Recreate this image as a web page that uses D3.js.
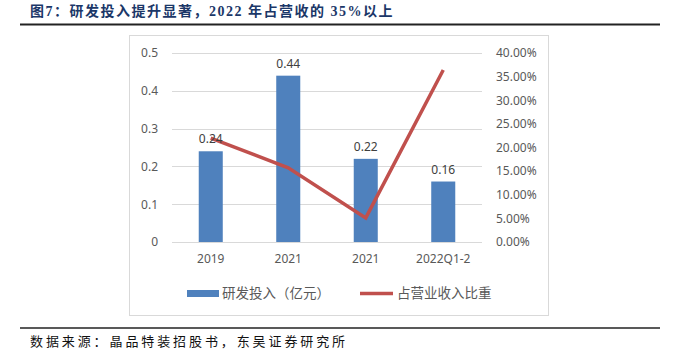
<!DOCTYPE html>
<html>
<head>
<meta charset="utf-8">
<script src="https://cdn.jsdelivr.net/npm/d3@7"></script>
<style>
  body { margin: 0; background: #fff; }
  svg text { font-family: "Noto Sans", "Noto Sans CJK SC", sans-serif; }
</style>
</head>
<body>
<svg id="chart" width="680" height="359"></svg>
<script>
// data
const categories = ["2019", "2021", "2021", "2022Q1-2"];
const rdSpend = [0.24, 0.44, 0.22, 0.16];          // 研发投入（亿元）
const revenueShare = [0.22, 0.157, 0.051, 0.364];  // 占营业收入比重
const leftTicks = [0, 0.1, 0.2, 0.3, 0.4, 0.5];
const rightTicks = [0, 0.05, 0.1, 0.15, 0.2, 0.25, 0.3, 0.35, 0.4];

const svg = d3.select("#chart");

// title + rules
svg.append("text")
  .attr("x", 30).attr("y", 16)
  .style("font-family", '"Liberation Serif", "Noto Sans CJK SC", serif')
  .style("font-weight", "bold")
  .style("font-size", "14px")
  .style("letter-spacing", "1.5px")
  .style("fill", "#1b3768")
  .text("图7：研发投入提升显著，2022 年占营收的 35%以上");

svg.append("line")
  .attr("x1", 20).attr("x2", 660).attr("y1", 24.5).attr("y2", 24.5)
  .style("stroke", "#222").style("stroke-width", 2);

svg.append("line")
  .attr("x1", 20).attr("x2", 660).attr("y1", 328).attr("y2", 328)
  .style("stroke", "#222").style("stroke-width", 1.5);

svg.append("text")
  .attr("x", 30).attr("y", 346)
  .style("font-family", '"Noto Sans CJK SC", sans-serif')
  .style("font-size", "13px")
  .style("letter-spacing", "2.9px")
  .style("fill", "#111")
  .text("数据来源：晶品特装招股书，东吴证券研究所");

// chart frame
svg.append("rect")
  .attr("x", 129.5).attr("y", 35.5).attr("width", 419).attr("height", 280)
  .style("fill", "#fff").style("stroke", "#d9d9d9");

const plotL = 172, plotR = 482, plotT = 53, plotB = 242;

const x = d3.scaleBand().domain(d3.range(categories.length)).range([plotL, plotR]).paddingInner(0.69).paddingOuter(0.345);
const yL = d3.scaleLinear().domain([0, 0.5]).range([plotB, plotT]);
const yR = d3.scaleLinear().domain([0, 0.4]).range([plotB, plotT]);

// gridlines
svg.append("g").selectAll("line").data(leftTicks).join("line")
  .attr("x1", plotL).attr("x2", plotR)
  .attr("y1", d => Math.round(yL(d)) + 0.5).attr("y2", d => Math.round(yL(d)) + 0.5)
  .style("stroke", "#d9d9d9");

// left axis
const axL = svg.append("g").attr("transform", `translate(${plotL - 10},0)`)
  .call(d3.axisLeft(yL).tickValues(leftTicks).tickSize(0).tickPadding(4).tickFormat(d => d === 0 ? "0" : d3.format(".1f")(d)));
axL.select(".domain").remove();
axL.selectAll("text").style("font-size", "12px").style("fill", "#595959").style("font-family", '"Noto Sans", sans-serif');

// right axis
const axR = svg.append("g").attr("transform", `translate(${plotR + 10},0)`)
  .call(d3.axisRight(yR).tickValues(rightTicks).tickSize(0).tickPadding(4).tickFormat(d3.format(".2%")));
axR.select(".domain").remove();
axR.selectAll("text").style("font-size", "12px").style("fill", "#595959").style("font-family", '"Noto Sans", sans-serif');

// x axis labels
const axX = svg.append("g").attr("transform", `translate(0,${plotB + 6})`)
  .call(d3.axisBottom(x).tickSize(0).tickPadding(6).tickFormat(i => categories[i]));
axX.select(".domain").remove();
axX.selectAll("text").style("font-size", "12px").style("fill", "#595959").style("font-family", '"Noto Sans", sans-serif');

// bars
svg.append("g").selectAll("rect").data(rdSpend).join("rect")
  .attr("x", (d, i) => x(i))
  .attr("y", d => yL(d))
  .attr("width", x.bandwidth())
  .attr("height", d => yL(0) - yL(d))
  .style("fill", "#4f81bd");

// line
const line = d3.line().x((d, i) => x(i) + x.bandwidth() / 2).y(d => yR(d));
svg.append("path")
  .datum(revenueShare)
  .attr("d", line)
  .style("fill", "none")
  .style("stroke", "#c0504d")
  .style("stroke-width", 3.5);

// bar labels
svg.append("g").selectAll("text").data(rdSpend).join("text")
  .attr("x", (d, i) => x(i) + x.bandwidth() / 2)
  .attr("y", d => yL(d) - 8)
  .attr("text-anchor", "middle")
  .style("font-size", "12px")
  .style("fill", "#404040")
  .text(d => d3.format(".2f")(d));

// legend
const lg = svg.append("g");
lg.append("rect").attr("x", 187).attr("y", 290).attr("width", 32).attr("height", 7).style("fill", "#4f81bd");
lg.append("text").attr("x", 222).attr("y", 298).style("font-size", "13.5px").style("fill", "#595959")
  .style("font-family", '"Noto Sans CJK SC", sans-serif').text("研发投入（亿元）");
lg.append("line").attr("x1", 360).attr("x2", 393).attr("y1", 293.5).attr("y2", 293.5)
  .style("stroke", "#c0504d").style("stroke-width", 3.5);
lg.append("text").attr("x", 397).attr("y", 298).style("font-size", "13.5px").style("fill", "#595959")
  .style("font-family", '"Noto Sans CJK SC", sans-serif').text("占营业收入比重");
</script>
</body>
</html>
